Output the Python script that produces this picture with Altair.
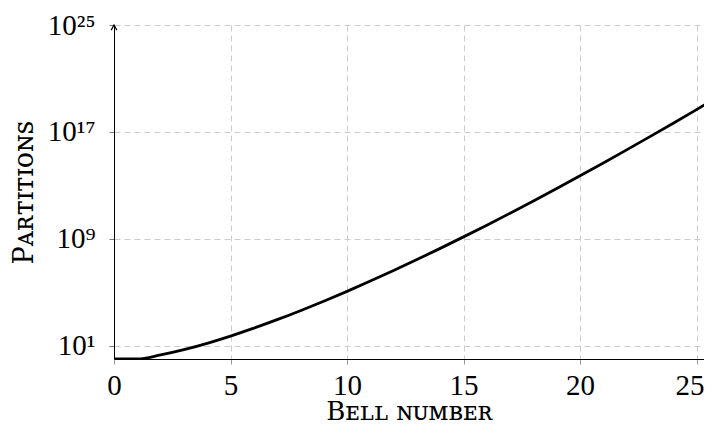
import altair as alt
import pandas as pd

# Bell numbers B(n), n = 0..26
n_values = list(range(27))
bell_values = [
    1, 1, 2, 5, 15, 52, 203, 877, 4140, 21147, 115975, 678570, 4213597,
    27644437, 190899322, 1382958545, 10480142147, 82864869804,
    682076806159, 5832742205057, 51724158235372, 474869816156751,
    4506715738447323, 44152005855084346, 445958869294805289,
    4638590332229999353, 49631246523618756274,
]
x_ticks = [0, 5, 10, 15, 20, 25]
y_tick_values = [1e1, 1e9, 1e17, 1e25]
y_tick_labels = ["10¹", "10⁹", "10¹⁷", "10²⁵"]
x_title = "Bᴇʟʟ ɴᴜᴍʙᴇʀ"
y_title = "Pᴀʀᴛɪᴛɪᴏɴꜱ"

df = pd.DataFrame({"n": n_values, "bell": [float(b) for b in bell_values]})

FONT = "Liberation Serif"
TFONT = "DejaVu Serif"

label_expr = ""
for v, lab in zip(reversed(y_tick_values), reversed(y_tick_labels)):
    label_expr += f"datum.value >= {v * 0.5} ? '{lab}' : "
label_expr += "''"

x_scale = alt.Scale(domain=[0, 25.32], nice=False, zero=False)
y_scale = alt.Scale(type="log", domain=[1, 1e25], nice=False)

line = alt.Chart(df).mark_line(color="black", strokeWidth=2.8, clip=True,
                                interpolate="monotone").encode(
    x=alt.X("n:Q", scale=x_scale,
            axis=alt.Axis(values=x_ticks, title=x_title, grid=True,
                          gridDash=[6, 4], gridColor="#cccccc",
                          domainColor="black", domainWidth=1,
                          tickColor="#999999", tickSize=5,
                          labelFont=FONT, labelFontSize=29, labelColor="black",
                          labelPadding=7, labelFlush=False,
                          labelOffset={"condition": {"test": "datum.value >= 25", "value": -7}, "value": 0},
                          titleFont=TFONT, titleFontSize=26, titleFontWeight="normal",
                          titleColor="black", titlePadding=-2)),
    y=alt.Y("bell:Q", scale=y_scale,
            axis=alt.Axis(values=y_tick_values, labelExpr=label_expr,
                          title=y_title, grid=True,
                          gridDash=[6, 4], gridColor="#cccccc",
                          domainColor="black", domainWidth=1,
                          tickColor="#777777", tickSize=5,
                          labelFont=FONT, labelFontSize=29, labelColor="black",
                          labelPadding=14, labelFlush=False,
                          titleFont=TFONT, titleFontSize=27, titleFontWeight="normal",
                          titleColor="black", titlePadding=9)),
)

arrow = alt.Chart(pd.DataFrame({"x": [0], "y": [1e25]})).mark_point(
    shape="M-0.55,1 L0,0 L0.55,1", filled=False, stroke="black",
    strokeWidth=1.3, size=110, opacity=1
).encode(x=alt.X("x:Q", scale=x_scale), y=alt.Y("y:Q", scale=y_scale))

chart = (line + arrow).properties(
    width=590, height=334,
    autosize=alt.AutoSizeParams(type="none"),
    padding={"left": 106, "top": 17, "right": 0, "bottom": 63},
).configure_view(stroke=None)

chart.save("out.html", embed_options={"renderer": "svg", "actions": False})
